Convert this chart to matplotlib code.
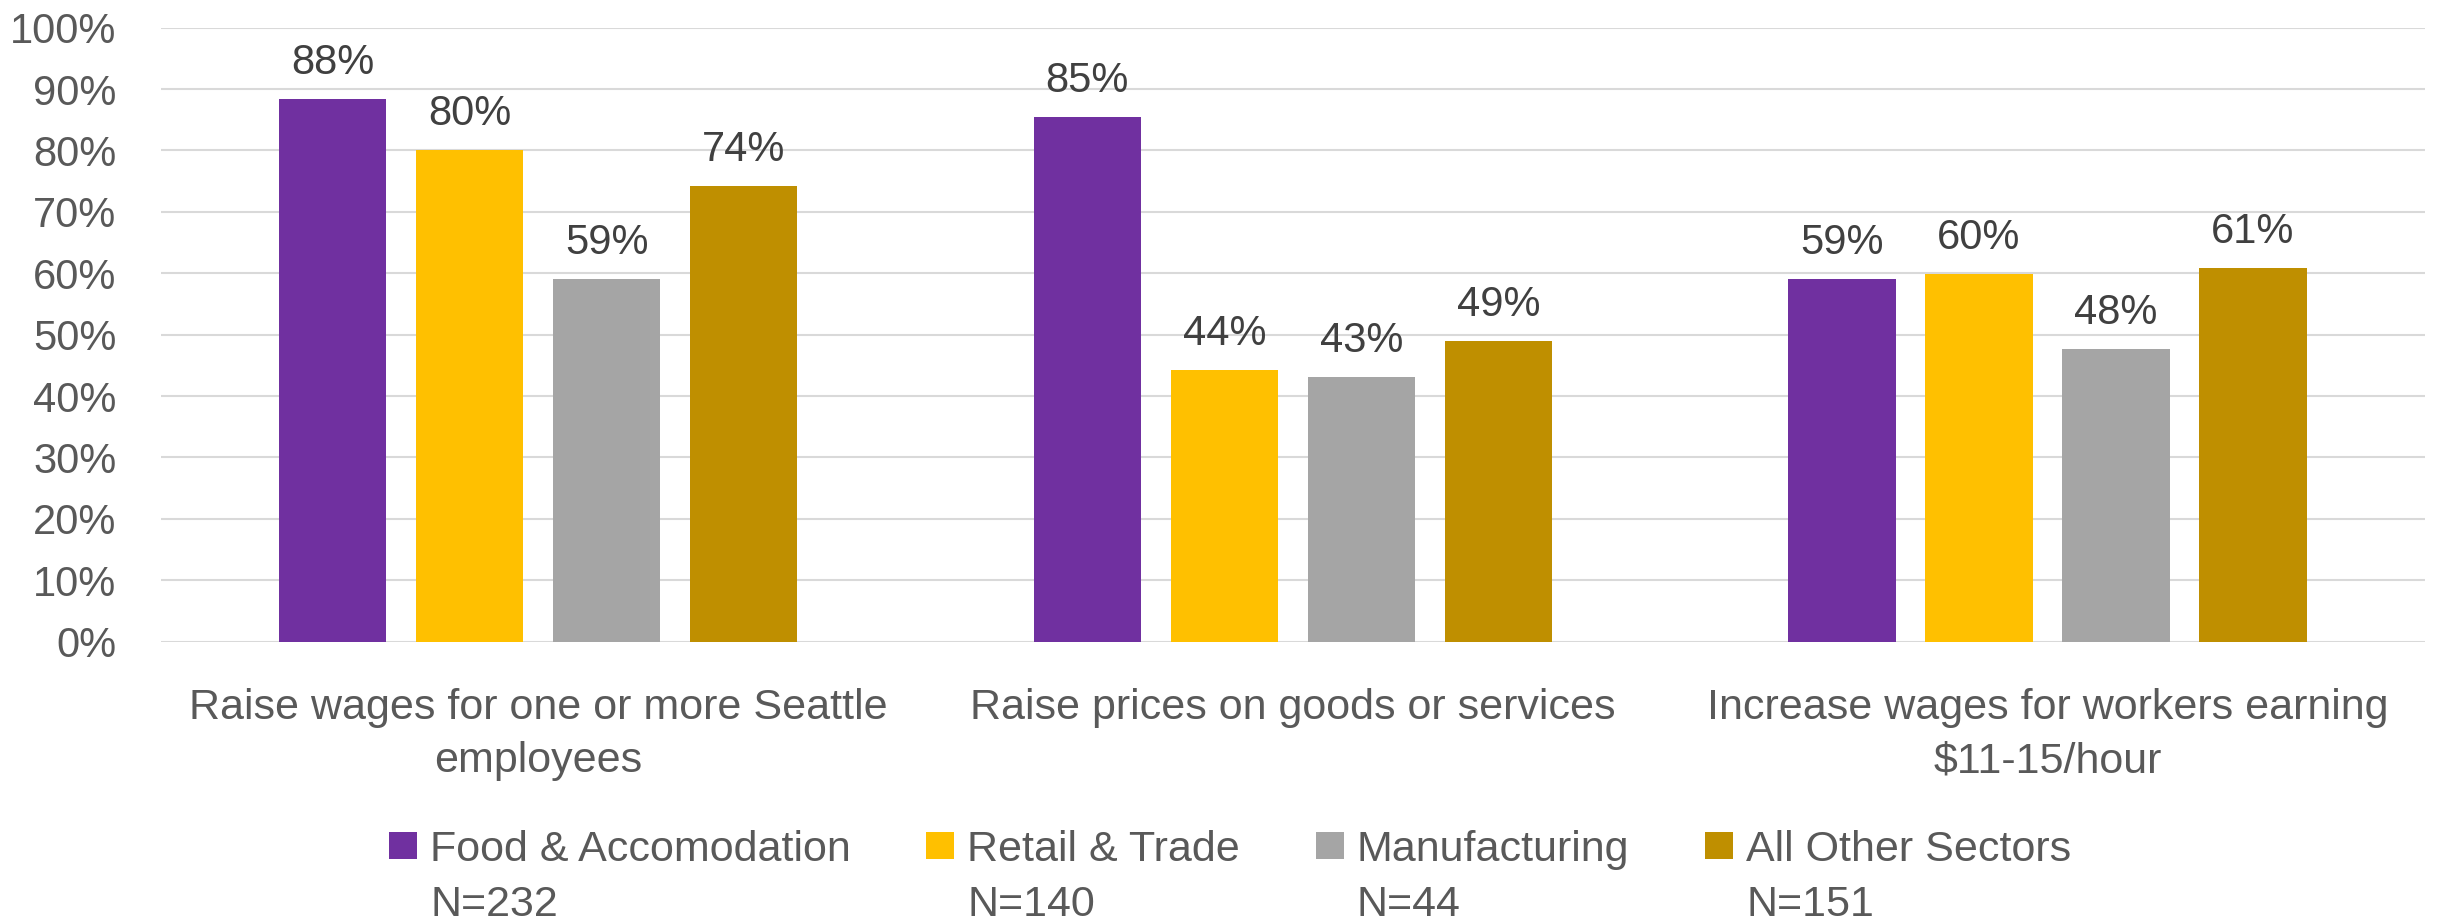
import matplotlib
matplotlib.use("Agg")
import matplotlib.pyplot as plt
from matplotlib.patches import Patch
import numpy as np

categories = ["Raise wages for one or more Seattle\nemployees",
              "Raise prices on goods or services",
              "Increase wages for workers earning\n$11-15/hour"]
series_names = ["Food & Accomodation", "Retail & Trade", "Manufacturing", "All Other Sectors"]
series_n = ["N=232", "N=140", "N=44", "N=151"]
food = [88.4, 85.4, 59.0]
retail = [80.0, 44.2, 59.9]
manuf = [59.0, 43.1, 47.7]
other = [74.2, 49.0, 60.9]
yticks = [0, 10, 20, 30, 40, 50, 60, 70, 80, 90, 100]

series = [food, retail, manuf, other]
colors = ["#7030A0", "#FFC000", "#A5A5A5", "#BF8F00"]

plt.rcParams['font.family'] = ['Liberation Sans', 'DejaVu Sans']
FS = 30
FS_TXT = 31

fig = plt.figure(figsize=(24.37, 9.22), dpi=100)
ax = fig.add_axes([0.066, 0.3040, 0.929, 0.6660])

x = np.arange(len(categories))
step = 0.1815
width = 0.142
for i, (vals, c) in enumerate(zip(series, colors)):
    pos = x + (i - 1.5) * step
    bars = ax.bar(pos, vals, width=width, color=c, zorder=3)
    for b, v in zip(bars, vals):
        ax.annotate(f"{v:.0f}%", (b.get_x() + b.get_width() / 2, v),
                    xytext=(0, 18), textcoords="offset points",
                    ha="center", va="baseline", fontsize=FS, color="#404040")

ax.set_xlim(-0.5, 2.5)
ax.set_ylim(0, 100)
ax.set_yticks(yticks)
ax.set_yticklabels([f"{t}%" for t in yticks])
ax.set_xticks(x)
ax.set_xticklabels(categories, linespacing=1.45)
ax.tick_params(axis="y", length=0, pad=32, labelsize=FS, labelcolor="#595959")
ax.tick_params(axis="x", length=0, pad=33, labelsize=FS_TXT, labelcolor="#595959")
ax.grid(axis="y", color="#D9D9D9", linewidth=1.5, zorder=0)
for s in ax.spines.values():
    s.set_visible(False)

handles = [Patch(facecolor=c) for c in colors]
leg = fig.legend(handles, series_names, loc="center", bbox_to_anchor=(0.5047, 0.0785),
                 ncol=4, frameon=False, fontsize=FS_TXT, handlelength=0.65, handleheight=0.6,
                 handletextpad=0.31, columnspacing=1.75, labelcolor="#595959")

fig.canvas.draw()
inv = fig.transFigure.inverted()
for t, n in zip(leg.get_texts(), series_n):
    bb = t.get_window_extent()
    x0 = inv.transform((bb.x0, bb.y0))[0]
    fig.text(x0, 0.0180, n, ha="left", va="center", fontsize=FS_TXT, color="#595959")

fig.savefig("out.png", dpi=100, facecolor="white")
